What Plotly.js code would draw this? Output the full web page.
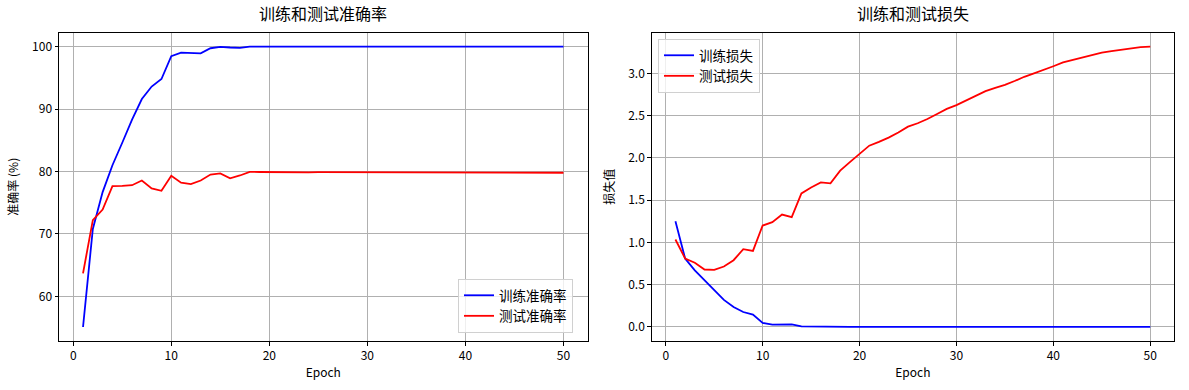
<!DOCTYPE html>
<html>
<head>
<meta charset="utf-8">
<script src="https://cdn.plot.ly/plotly-3.0.1.min.js"></script>
<style>html,body{margin:0;padding:0;background:#fff;}#chart{width:1189px;height:390px;}</style>
</head>
<body>
<div id="chart"></div>
<script>
const epochs = Array.from({length: 50}, (_, i) => i + 1);

const trainAcc = [55.1, 70.8, 76.7, 81.0, 84.6, 88.3, 91.6, 93.6, 94.8, 98.45,
  99.04, 99.0, 98.9, 99.73, 99.95, 99.85, 99.8, 100, 100, 100,
  100, 100, 100, 100, 100, 100, 100, 100, 100, 100,
  100, 100, 100, 100, 100, 100, 100, 100, 100, 100,
  100, 100, 100, 100, 100, 100, 100, 100, 100, 100];

const testAcc = [63.7, 72.2, 73.9, 77.65, 77.7, 77.8, 78.56, 77.3, 76.9, 79.3,
  78.2, 77.97, 78.56, 79.5, 79.7, 78.9, 79.36, 79.95, 79.92, 79.9,
  79.85, 79.9, 79.85, 79.87, 79.9, 79.9, 79.9, 79.9, 79.88, 79.85,
  79.88, 79.85, 79.85, 79.85, 79.82, 79.8, 79.88, 79.85, 79.83, 79.82,
  79.82, 79.8, 79.82, 79.82, 79.8, 79.8, 79.8, 79.8, 79.8, 79.8];

const trainLoss = [1.25, 0.81, 0.67, 0.55, 0.433, 0.32, 0.236, 0.177, 0.146, 0.047,
  0.028, 0.03, 0.031, 0.008, 0.005, 0.007, 0.006, 0.002, 0.001, 0.001,
  0.001, 0.001, 0.001, 0.001, 0.001, 0.001, 0.001, 0.001, 0.001, 0.001,
  0.001, 0.001, 0.001, 0.001, 0.001, 0.001, 0.001, 0.001, 0.001, 0.001,
  0.001, 0.001, 0.001, 0.001, 0.001, 0.001, 0.001, 0.001, 0.001, 0.001];

const testLoss = [1.035, 0.81, 0.76, 0.68, 0.675, 0.715, 0.79, 0.92, 0.90, 1.2,
  1.24, 1.33, 1.30, 1.58, 1.65, 1.71, 1.70, 1.85, 1.95, 2.05,
  2.145, 2.19, 2.24, 2.30, 2.37, 2.41, 2.46, 2.52, 2.58, 2.625,
  2.677, 2.73, 2.79, 2.83, 2.865, 2.91, 2.96, 3.0, 3.04, 3.085,
  3.13, 3.157, 3.19, 3.22, 3.245, 3.263, 3.28, 3.294, 3.31, 3.318];

const titles = ['训练和测试准确率', '训练和测试损失'];
const seriesNames = ['训练准确率', '测试准确率', '训练损失', '测试损失'];
const xTitle = 'Epoch';
const yTitles = ['准确率 (%)', '损失值'];

const FONT = '"Noto Sans CJK SC", "Noto Sans", sans-serif';

const traces = [
  {x: epochs, y: trainAcc, name: seriesNames[0], type: 'scatter', mode: 'lines',
   line: {color: 'blue', width: 1.8}, xaxis: 'x', yaxis: 'y', legend: 'legend'},
  {x: epochs, y: testAcc, name: seriesNames[1], type: 'scatter', mode: 'lines',
   line: {color: 'red', width: 1.8}, xaxis: 'x', yaxis: 'y', legend: 'legend'},
  {x: epochs, y: trainLoss, name: seriesNames[2], type: 'scatter', mode: 'lines',
   line: {color: 'blue', width: 1.8}, xaxis: 'x2', yaxis: 'y2', legend: 'legend2'},
  {x: epochs, y: testLoss, name: seriesNames[3], type: 'scatter', mode: 'lines',
   line: {color: 'red', width: 1.8}, xaxis: 'x2', yaxis: 'y2', legend: 'legend2'}
];

const axisCommon = {
  showline: true, mirror: true, linecolor: 'black', linewidth: 1,
  ticks: 'outside', ticklen: 3.5, tickwidth: 1, tickcolor: 'black',
  showgrid: true, gridcolor: '#b0b0b0', gridwidth: 1,
  zeroline: false, automargin: false,
  tickfont: {family: FONT, size: 12, color: '#000'}
};

const W = 1189, H = 390;
const layout = {
  width: W, height: H,
  margin: {l: 0, r: 0, t: 0, b: 0},
  paper_bgcolor: '#fff', plot_bgcolor: '#fff',
  font: {family: FONT, color: '#000'},
  xaxis: Object.assign({}, axisCommon, {
    domain: [59/W, 587.5/W], range: [-1.45, 52.45], tickvals: [0,10,20,30,40,50],
    anchor: 'y',
    title: {text: xTitle, font: {family: FONT, size: 12}, standoff: 6}
  }),
  yaxis: Object.assign({}, axisCommon, {
    domain: [(H-341)/H, (H-32.5)/H], range: [52.86, 102.25], tickvals: [60,70,80,90,100],
    anchor: 'x',
    title: {text: yTitles[0], font: {family: FONT, size: 12}, standoff: 10}
  }),
  xaxis2: Object.assign({}, axisCommon, {
    domain: [651.7/W, 1174/W], range: [-1.45, 52.45], tickvals: [0,10,20,30,40,50],
    anchor: 'y2',
    title: {text: xTitle, font: {family: FONT, size: 12}, standoff: 6}
  }),
  yaxis2: Object.assign({}, axisCommon, {
    domain: [(H-341)/H, (H-32.5)/H], range: [-0.166, 3.484],
    tickvals: [0, 0.5, 1.0, 1.5, 2.0, 2.5, 3.0], ticktext: ['0.0','0.5','1.0','1.5','2.0','2.5','3.0'],
    anchor: 'x2',
    title: {text: yTitles[1], font: {family: FONT, size: 12}, standoff: 10}
  }),
  showlegend: true,
  legend: {
    x: 573/W, y: (H-333)/H, xanchor: 'right', yanchor: 'bottom',
    bgcolor: 'rgba(255,255,255,0.8)', bordercolor: '#d0d0d0', borderwidth: 1,
    font: {family: FONT, size: 13.5, color: '#000'}, tracegroupgap: 0
  },
  legend2: {
    x: 658/W, y: (H-39)/H, xanchor: 'left', yanchor: 'top',
    bgcolor: 'rgba(255,255,255,0.8)', bordercolor: '#d0d0d0', borderwidth: 1,
    font: {family: FONT, size: 13.5, color: '#000'}, tracegroupgap: 0
  },
  annotations: [
    {text: titles[0], xref: 'paper', yref: 'paper', x: (59+587.5)/2/W, y: (H-13)/H,
     xanchor: 'center', yanchor: 'middle', showarrow: false, font: {family: FONT, size: 16, color: '#000'}},
    {text: titles[1], xref: 'paper', yref: 'paper', x: (651.7+1174)/2/W, y: (H-13)/H,
     xanchor: 'center', yanchor: 'middle', showarrow: false, font: {family: FONT, size: 16, color: '#000'}}
  ]
};

Plotly.newPlot('chart', traces, layout, {staticPlot: true, displayModeBar: false});
</script>
</body>
</html>
